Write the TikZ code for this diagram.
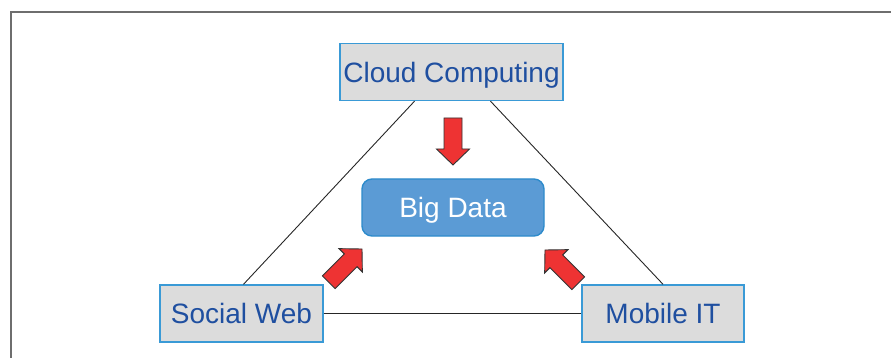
\documentclass[tikz,border=0pt]{standalone}
\usepackage{fontspec}
\setmainfont{Liberation Sans}
\definecolor{boxfill}{HTML}{DCDCDC}
\definecolor{boxline}{HTML}{3A9AD6}
\definecolor{boxtext}{HTML}{1F4FA0}
\definecolor{corefill}{HTML}{5B9BD5}
\definecolor{coreline}{HTML}{2D8BCB}
\definecolor{arrowred}{HTML}{EE3333}
\definecolor{framegray}{HTML}{6E6E6E}
\tikzset{
  topic/.style={draw=boxline, line width=1.4pt, fill=boxfill, text=boxtext,
    inner sep=0pt, minimum height=57pt, text height=20.2pt, text depth=0pt,
    font=\fontsize{28}{30}\selectfont},
  core/.style={topic, draw=coreline, fill=corefill, text=white, rounded corners=10pt},
  link/.style={draw=black!85, line width=0.9pt},
  bigarrow/.style={fill=arrowred, draw=black!80, line width=0.9pt, line join=miter},
}
\begin{document}
\begin{tikzpicture}[x=1pt, y=-1pt]
  \useasboundingbox (0,0) rectangle (891,358);
  % outer frame (top and left edges)
  \draw[framegray, line width=1.6pt] (11,358) -- (11,12) -- (891,12);

  \node[topic, minimum width=223pt] (cloud) at (451.5,72) {Cloud Computing};
  \node[topic, minimum width=163pt] (social) at (241.5,313.5) {Social Web};
  \node[topic, minimum width=162pt] (mobile) at (663,313.5) {Mobile IT};
  \node[core, minimum width=182pt] (data) at (453,207.5) {Big Data};

  % triangle connecting the three sources
  \draw[link] ([xshift=-37pt]cloud.south) -- ([xshift=2pt]social.north);
  \draw[link] ([xshift=39pt]cloud.south) -- (mobile.north);
  \draw[link] (social.east) -- (mobile.west);

  % block arrows pointing at Big Data
  \foreach \tip/\ang in {{(453,165)}/-90, {(362,249)}/45, {(545,250)}/135}{
    \draw[bigarrow, shift={\tip}, rotate=\ang]
      (-47,-9) -- (-16,-9) -- (-16,-16.5) -- (0,0) -- (-16,16.5) -- (-16,9) -- (-47,9) -- cycle;
  }
\end{tikzpicture}
\end{document}
